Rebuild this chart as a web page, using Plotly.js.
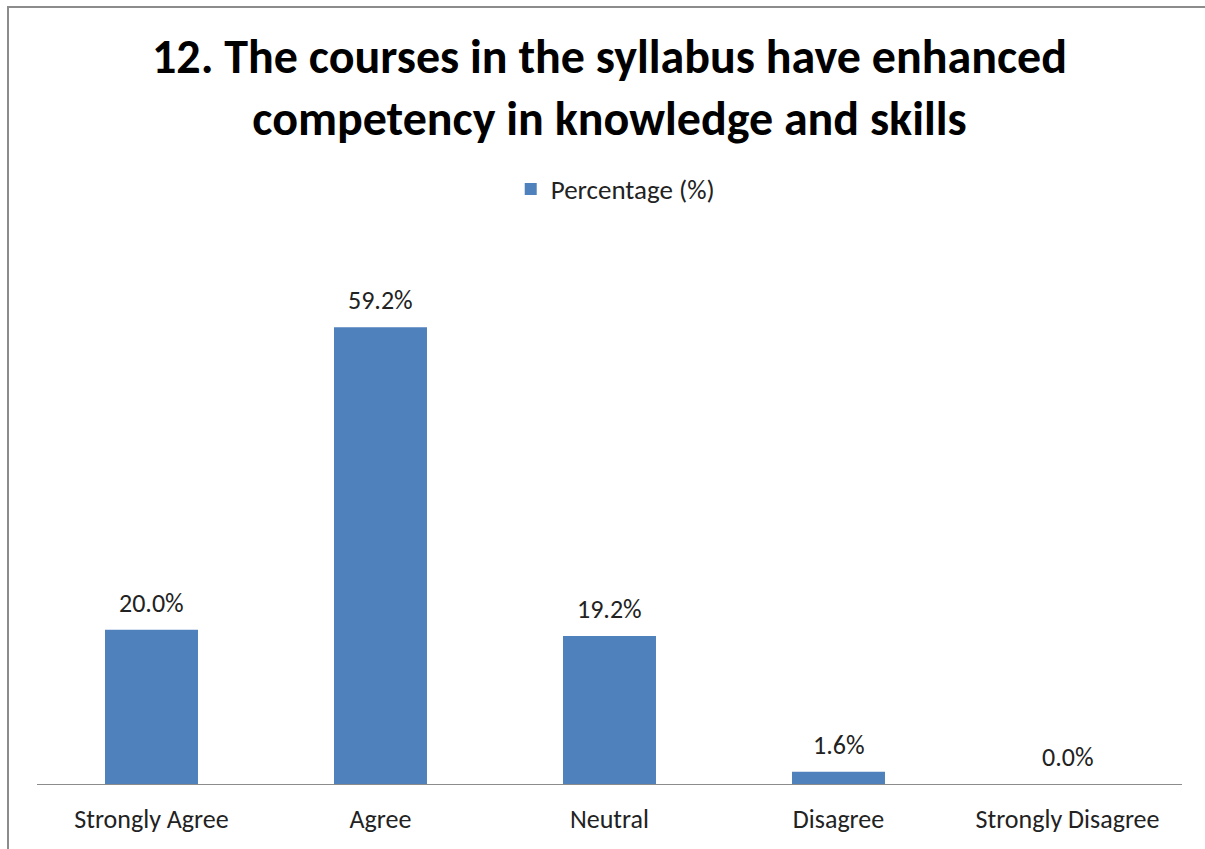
<!DOCTYPE html>
<html><head><meta charset="utf-8">
<script src="https://cdn.plot.ly/plotly-3.0.1.min.js"></script>
<style>
html,body{margin:0;padding:0;background:#fff;overflow:hidden;}
#chart{width:1205px;height:849px;}
#frame{position:absolute;left:7px;top:6px;width:1300px;height:900px;border:2px solid #8c8c8c;pointer-events:none;}
</style></head>
<body>
<div id="chart"></div>
<div id="frame"></div>
<script>
const categories = ["Strongly Agree", "Agree", "Neutral", "Disagree", "Strongly Disagree"];
const percentages = [20.0, 59.2, 19.2, 1.6, 0.0];
const seriesName = "Percentage (%)";
const titleText = "12. The courses in the syllabus have enhanced<br>competency in knowledge and skills";

const font = "Calibri, Carlito, 'Open Sans', 'Noto Sans', sans-serif";

const labels = categories.map((c, i) => ({
  x: c, y: percentages[i], xref: 'x', yref: 'y',
  text: percentages[i].toFixed(1) + '%',
  showarrow: false, yanchor: 'middle', yshift: 27,
  font: {family: font, size: 26, color: '#222'}
}));

Plotly.newPlot('chart', [{
  type: 'bar',
  x: categories,
  y: percentages,
  name: seriesName,
  marker: {color: '#4F81BD'},
  hoverinfo: 'x+y'
}], {
  width: 1205, height: 849,
  paper_bgcolor: '#fff', plot_bgcolor: '#fff',
  margin: {l: 37, r: 23, t: 244, b: 65},
  bargap: 0.594,
  showlegend: true,
  legend: {orientation: 'h', x: 0.505, xanchor: 'center', xref: 'paper', y: 0.777, yref: 'container', yanchor: 'middle',
           font: {family: font, size: 27, color: '#222'}},
  title: {text: titleText, x: 0.5, xref: 'paper', xanchor: 'center', y: 0.914, yref: 'container', yanchor: 'top',
          font: {family: font, size: 48, color: '#000', weight: 'bold'}},
  xaxis: {showline: true, linecolor: '#8c8c8c', linewidth: 1, ticks: '', showgrid: false,
          tickfont: {family: font, size: 26, color: '#222'}, ticklabelstandoff: 12},
  yaxis: {range: [0, 70], visible: false, showgrid: false, zeroline: false},
  annotations: labels,
  font: {family: font}
}, {displayModeBar: false, staticPlot: true});
</script>
</body></html>
